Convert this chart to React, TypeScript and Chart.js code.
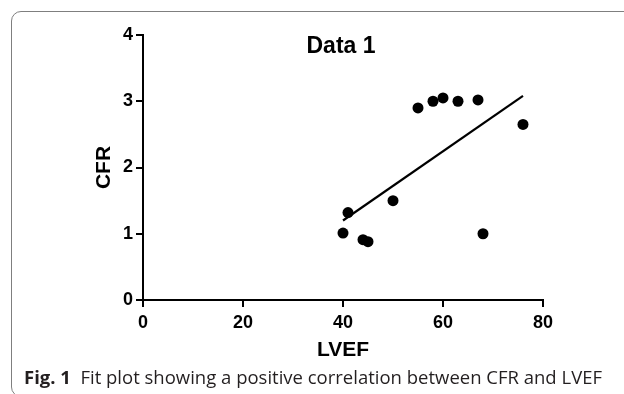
import React, { useEffect, useRef } from "react";
import { Chart, registerables } from "chart.js";

Chart.register(...registerables);

// LVEF (x) and CFR (y) of each patient
const lvef = [40, 41, 44, 45, 50, 55, 58, 60, 63, 67, 68, 76];
const cfr = [1.01, 1.32, 0.91, 0.88, 1.5, 2.9, 3.0, 3.05, 3.0, 3.02, 1.0, 2.65];
// ends of the fitted line
const fitLvef = [40, 76];
const fitCfr = [1.2, 3.08];
// tick labels
const xTicks = [0, 20, 40, 60, 80];
const yTicks = [0, 1, 2, 3, 4];

const chartTitle = "Data 1";
const xTitle = "LVEF";
const yTitle = "CFR";

const FONT = "'Liberation Sans', Arial, Helvetica, sans-serif";

const titlePlugin = {
  id: "innerTitle",
  afterDraw(chart: any) {
    const { ctx, chartArea } = chart;
    ctx.save();
    ctx.font = `bold 23px ${FONT}`;
    ctx.fillStyle = "#000";
    ctx.textAlign = "center";
    ctx.textBaseline = "middle";
    ctx.fillText(chartTitle, (chartArea.left + chartArea.right) / 2 - 2, chartArea.top + 12);
    ctx.restore();
  },
};

export default function App() {
  const canvasRef = useRef<HTMLCanvasElement | null>(null);
  const capRef = useRef<HTMLDivElement | null>(null);

  useEffect(() => {
    const cap = capRef.current;
    if (cap) {
      cap.style.transform = "none";
      const w = cap.getBoundingClientRect().width;
      const target = 578;
      cap.style.transform = `scaleX(${target / w})`;
    }
    const canvas = canvasRef.current;
    if (!canvas) return;
    const chart = new Chart(canvas, {
      type: "scatter",
      data: {
        datasets: [
          {
            type: "line",
            data: fitLvef.map((x, i) => ({ x, y: fitCfr[i] })),
            borderColor: "#000",
            borderWidth: 2.2,
            pointRadius: 0,
            fill: false,
            showLine: true,
          } as any,
          {
            data: lvef.map((x, i) => ({ x, y: cfr[i] })),
            backgroundColor: "#000",
            borderWidth: 0,
            pointRadius: 5.5,
          },
        ],
      },
      options: {
        responsive: false,
        animation: false,
        layout: { padding: { top: 35, right: 81, left: 92, bottom: 31 } },
        plugins: {
          legend: { display: false },
          tooltip: { enabled: false },
          title: { display: false },
        },
        scales: {
          x: {
            type: "linear",
            min: 0,
            max: 80,
            afterBuildTicks: (s: any) => {
              s.ticks = xTicks.map((v) => ({ value: v }));
            },
            afterFit: (s: any) => {
              s.height = 63;
            },
            grid: {
              display: true,
              drawOnChartArea: false,
              drawTicks: true,
              tickLength: 7,
              color: "#000",
              lineWidth: 2,
            },
            border: { display: true, color: "#000", width: 2 },
            ticks: {
              color: "#000",
              padding: 5,
              maxRotation: 0,
              font: { family: FONT, size: 18, weight: "bold" },
            },
            title: {
              display: true,
              text: xTitle,
              color: "#000",
              padding: 0,
              font: { family: FONT, size: 21, weight: "bold" },
            },
          },
          y: {
            type: "linear",
            min: 0,
            max: 4,
            afterBuildTicks: (s: any) => {
              s.ticks = yTicks.map((v) => ({ value: v }));
            },
            afterFit: (s: any) => {
              s.width = 51;
            },
            grid: {
              display: true,
              drawOnChartArea: false,
              drawTicks: true,
              tickLength: 7,
              color: "#000",
              lineWidth: 2,
            },
            border: { display: true, color: "#000", width: 2 },
            ticks: {
              color: "#000",
              padding: 3,
              font: { family: FONT, size: 18, weight: "bold" },
            },
            title: {
              display: true,
              text: yTitle,
              color: "#000",
              padding: 0,
              font: { family: FONT, size: 21, weight: "bold" },
            },
          },
        },
      },
      plugins: [titlePlugin],
    });
    return () => chart.destroy();
  }, []);

  return (
    <div style={{ position: "absolute", left: 0, top: 0, width: 624, height: 394, overflow: "hidden", background: "#fff" }}>
      <div
        style={{
          position: "absolute",
          left: 11,
          top: 11,
          width: 700,
          height: 386,
          border: "1.5px solid #7f7f7f",
          borderRadius: "10px 0 0 10px",
          boxSizing: "border-box",
        }}
      />
      <canvas ref={canvasRef} width={624} height={394} style={{ position: "absolute", left: 0, top: 0 }} />
      <div
        ref={capRef}
        style={{
          position: "absolute",
          left: 24,
          top: 369,
          fontFamily: "'Open Sans', 'Noto Sans', sans-serif",
          fontSize: 17.5,
          lineHeight: "17px",
          whiteSpace: "nowrap",
          color: "#231f20",
          transformOrigin: "left top",
        }}
      >
        <span style={{ fontWeight: 700 }}>Fig. 1</span>
        <span style={{ marginLeft: 9 }}>Fit plot showing a positive correlation between CFR and LVEF</span>
      </div>
    </div>
  );
}
